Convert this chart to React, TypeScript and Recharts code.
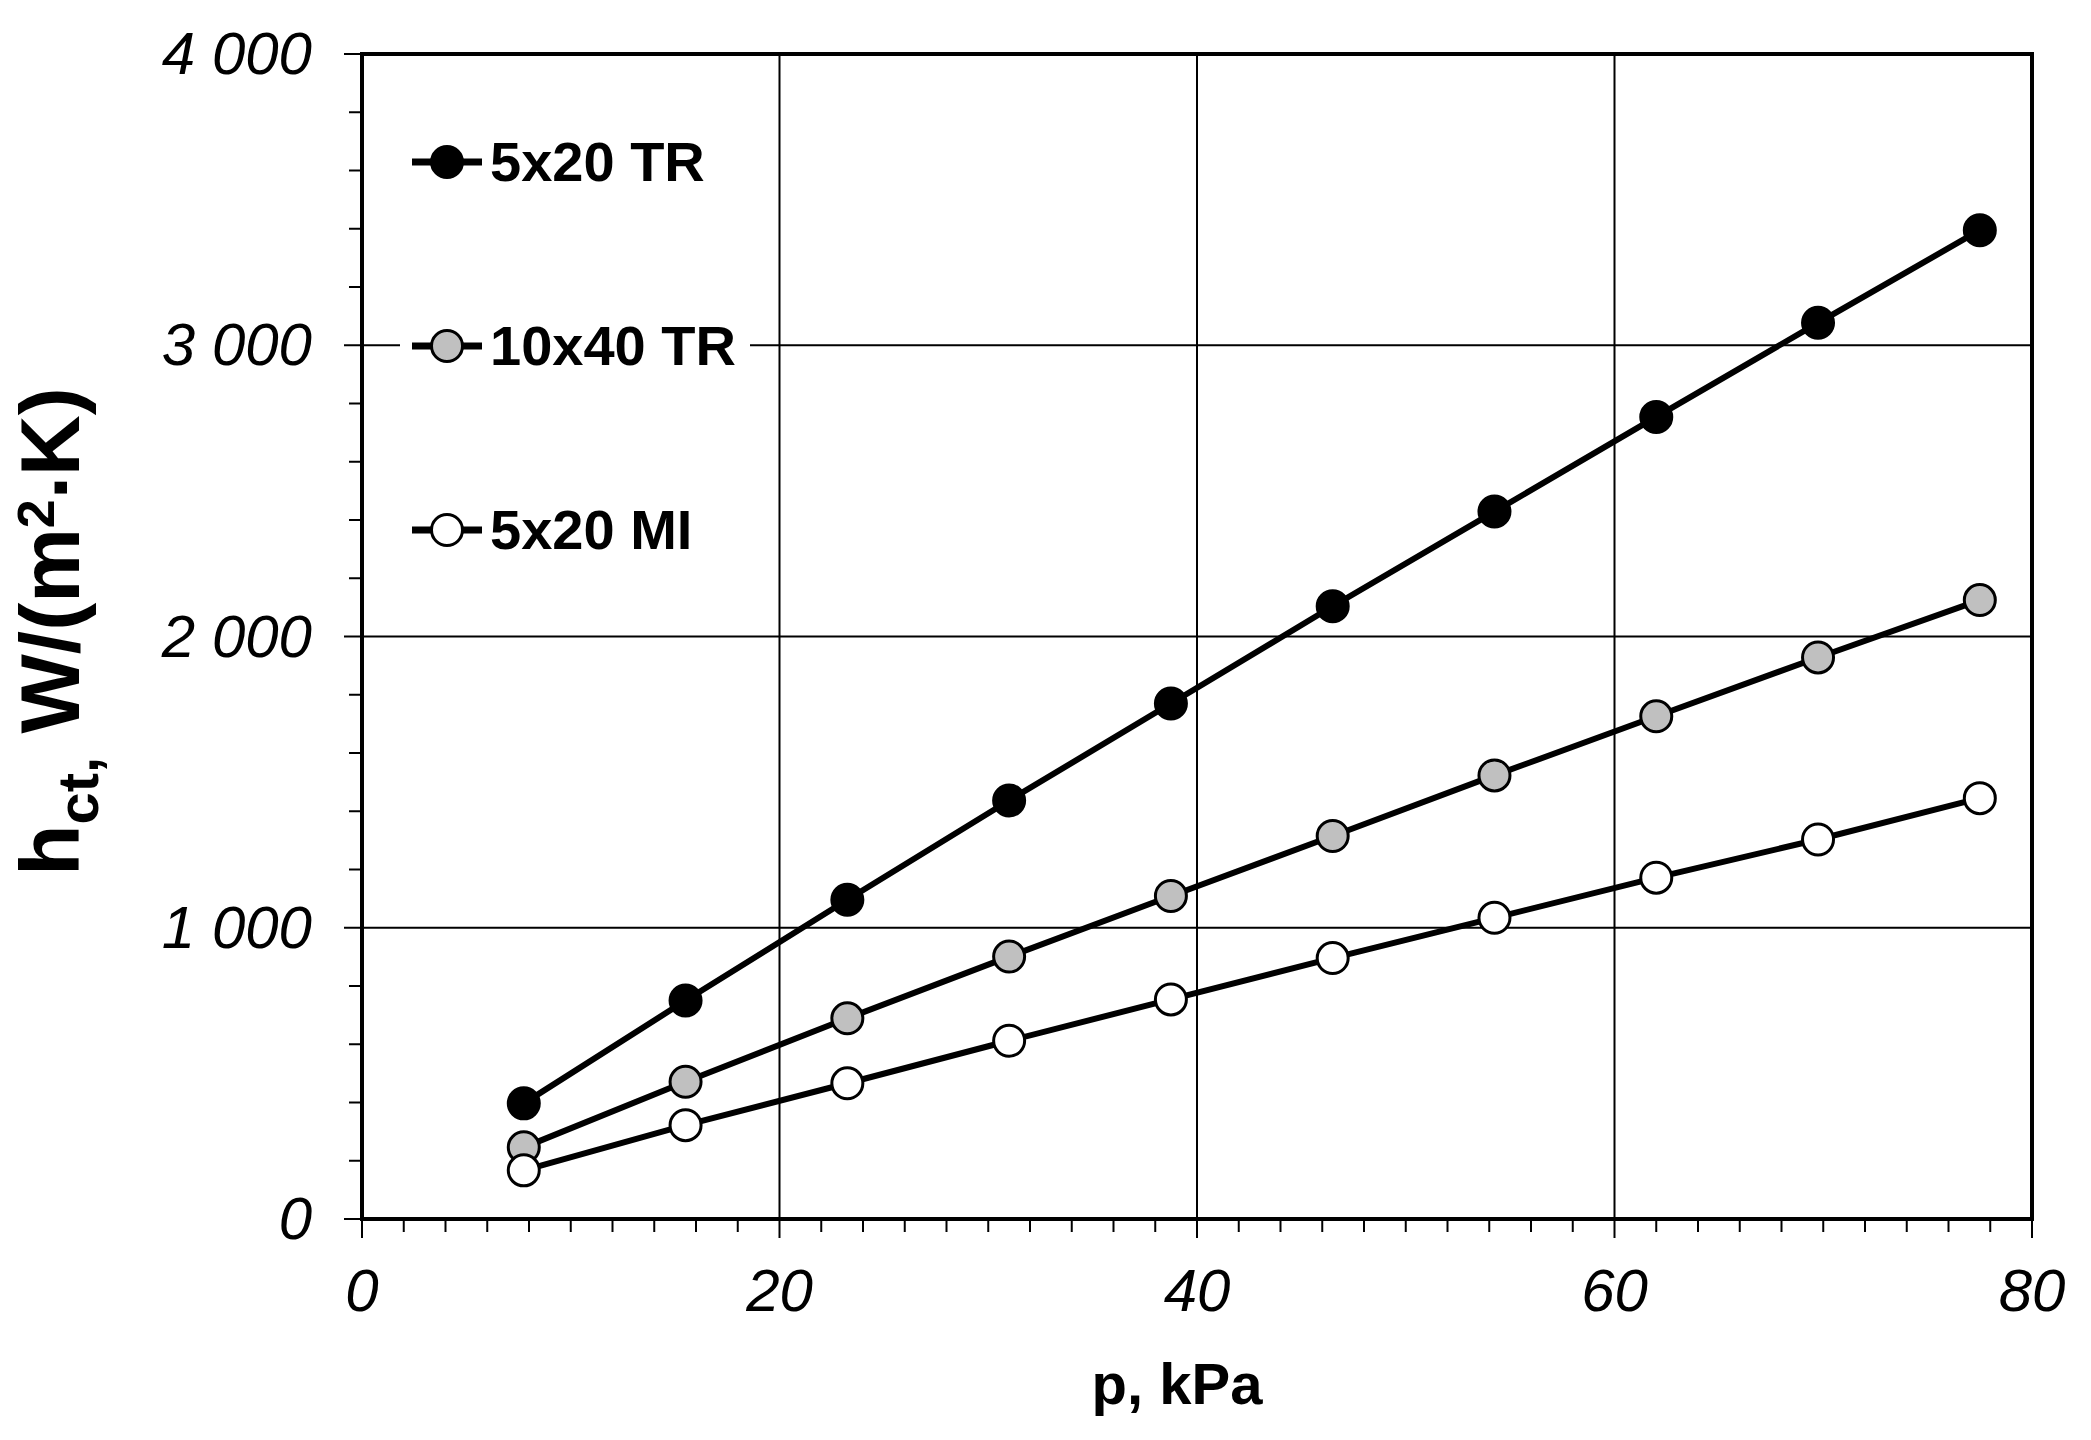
import React from 'react';
import { LineChart, Line, XAxis, YAxis, CartesianGrid, ReferenceArea, Legend, Label } from 'recharts';

// ---- data ----
const pressure = [7.75, 15.5, 23.25, 31, 38.75, 46.5, 54.25, 62, 69.75, 77.5];
const tr5x20 = [397, 750, 1096, 1437, 1770, 2104, 2429, 2754, 3077, 3395];
const tr10x40 = [246, 471, 689, 901, 1109, 1315, 1523, 1726, 1928, 2125];
const mi5x20 = [167, 322, 466, 612, 754, 896, 1034, 1172, 1303, 1445];

const seriesNames = ['5x20 TR', '10x40 TR', '5x20 MI'];
const seriesKeys = ['tr5x20', 'tr10x40', 'mi5x20'];
const seriesFills = ['#000000', '#c0c0c0', '#ffffff'];

const xTicks = [0, 2, 4, 6, 8, 10, 12, 14, 16, 18, 20, 22, 24, 26, 28, 30, 32, 34, 36, 38, 40, 42, 44, 46, 48, 50, 52, 54, 56, 58, 60, 62, 64, 66, 68, 70, 72, 74, 76, 78, 80];
const xMajor = [0, 20, 40, 60, 80];
const yTicks = [0, 200, 400, 600, 800, 1000, 1200, 1400, 1600, 1800, 2000, 2200, 2400, 2600, 2800, 3000, 3200, 3400, 3600, 3800, 4000];
const yMajor = [0, 1000, 2000, 3000, 4000];
const yTickLabels = ['0', '1 000', '2 000', '3 000', '4 000'];

const data = pressure.map((p, i) => ({
  p,
  tr5x20: tr5x20[i],
  tr10x40: tr10x40[i],
  mi5x20: mi5x20[i],
}));

const FONT = "'Liberation Sans', Arial, sans-serif";

const XTick = (props: any) => {
  const { x, y, payload } = props;
  const v = payload.value;
  const major = xMajor.includes(v);
  return (
    <g>
      <line x1={x} x2={x} y1={y} y2={y + (major ? 19 : 13)} stroke="#000" strokeWidth={2} />
      {major && (
        <text x={x} y={y + 92} textAnchor="middle" fontSize={60} fontStyle="italic" fontFamily={FONT} fill="#000">
          {String(v)}
        </text>
      )}
    </g>
  );
};

const YTick = (props: any) => {
  const { x, y, payload } = props;
  const v = payload.value;
  const mi = yMajor.indexOf(v);
  const major = mi >= 0;
  return (
    <g>
      <line x1={x - (major ? 18 : 13)} x2={x} y1={y} y2={y} stroke="#000" strokeWidth={2} />
      {major && (
        <text x={x - 50} y={y + 20} textAnchor="end" fontSize={60} fontStyle="italic" fontFamily={FONT} fill="#000">
          {yTickLabels[mi]}
        </text>
      )}
    </g>
  );
};

const YTitle = (props: any) => {
  const vb = props.viewBox || { x: 54, y: 46, width: 300, height: 1165 };
  const cx = vb.x + 17;
  const cy = vb.y + vb.height / 2 - 5;
  return (
    <text
      x={cx}
      y={cy}
      transform={`rotate(-90, ${cx}, ${cy})`}
      textAnchor="middle"
      fontFamily={FONT}
      fontWeight="bold"
      fontSize={84}
      fill="#000"
    >
      <tspan>h</tspan>
      <tspan fontSize={58} dy={19}>ct,</tspan>
      <tspan dy={-19}>{' W/(m'}</tspan>
      <tspan fontSize={52} dy={-25}>2</tspan>
      <tspan dy={13}>.</tspan>
      <tspan dy={12}>K)</tspan>
    </text>
  );
};

const XTitle = (props: any) => {
  const vb = props.viewBox || { x: 354, y: 1211, width: 1670, height: 150 };
  return (
    <text
      x={vb.x + vb.width / 2 - 20}
      y={vb.y + 185}
      textAnchor="middle"
      fontFamily={FONT}
      fontWeight="bold"
      fontSize={58}
      fill="#000"
    >
      p, kPa
    </text>
  );
};

const renderLegend = () => (
  <svg width={380} height={460} style={{ display: 'block' }}>
    <rect x={2} y={0} width={350} height={460} fill="#fff" />
    {seriesNames.map((name, i) => {
      const cy = 34 + i * 184;
      return (
        <g key={name}>
          <line x1={14} x2={84} y1={cy} y2={cy} stroke="#000" strokeWidth={7} />
          <circle cx={49} cy={cy} r={15.5} fill={seriesFills[i]} stroke="#000" strokeWidth={3} />
          <text x={92} y={cy + 19} fontSize={56} fontWeight="bold" fontFamily={FONT} fill="#000">
            {name}
          </text>
        </g>
      );
    })}
  </svg>
);

export default function App() {
  return (
    <div style={{ width: 2075, height: 1424, background: '#fff' }}>
      <LineChart width={2075} height={1424} data={data} margin={{ top: 46, right: 51, left: 54, bottom: 63 }}>
        <CartesianGrid
          horizontalValues={[1000, 2000, 3000]}
          verticalValues={[20, 40, 60]}
          stroke="#000"
          strokeWidth={2}
        />
        <XAxis
          type="number"
          dataKey="p"
          domain={[0, 80]}
          ticks={xTicks}
          interval={0}
          tick={<XTick />}
          tickLine={false}
          axisLine={false}
          tickSize={0}
          tickMargin={0}
          height={150}
          allowDataOverflow
        >
          <Label content={<XTitle />} />
        </XAxis>
        <YAxis
          type="number"
          domain={[0, 4000]}
          ticks={yTicks}
          interval={0}
          tick={<YTick />}
          tickLine={false}
          axisLine={false}
          tickSize={0}
          tickMargin={0}
          width={300}
          allowDataOverflow
        >
          <Label content={<YTitle />} />
        </YAxis>
        <ReferenceArea x1={0} x2={80} y1={0} y2={4000} fill="none" stroke="#000" strokeWidth={4} ifOverflow="visible" />
        {seriesKeys.map((k, i) => (
          <Line
            key={k}
            type="linear"
            dataKey={k}
            name={seriesNames[i]}
            stroke="#000"
            strokeWidth={6}
            dot={{ r: 15.5, fill: seriesFills[i], stroke: '#000', strokeWidth: 3 }}
            activeDot={false}
            isAnimationActive={false}
          />
        ))}
        <Legend
          layout="vertical"
          align="center"
          verticalAlign="middle"
          content={renderLegend}
          wrapperStyle={{ left: 390, top: 120, width: 380, height: 460 }}
        />
      </LineChart>
    </div>
  );
}
